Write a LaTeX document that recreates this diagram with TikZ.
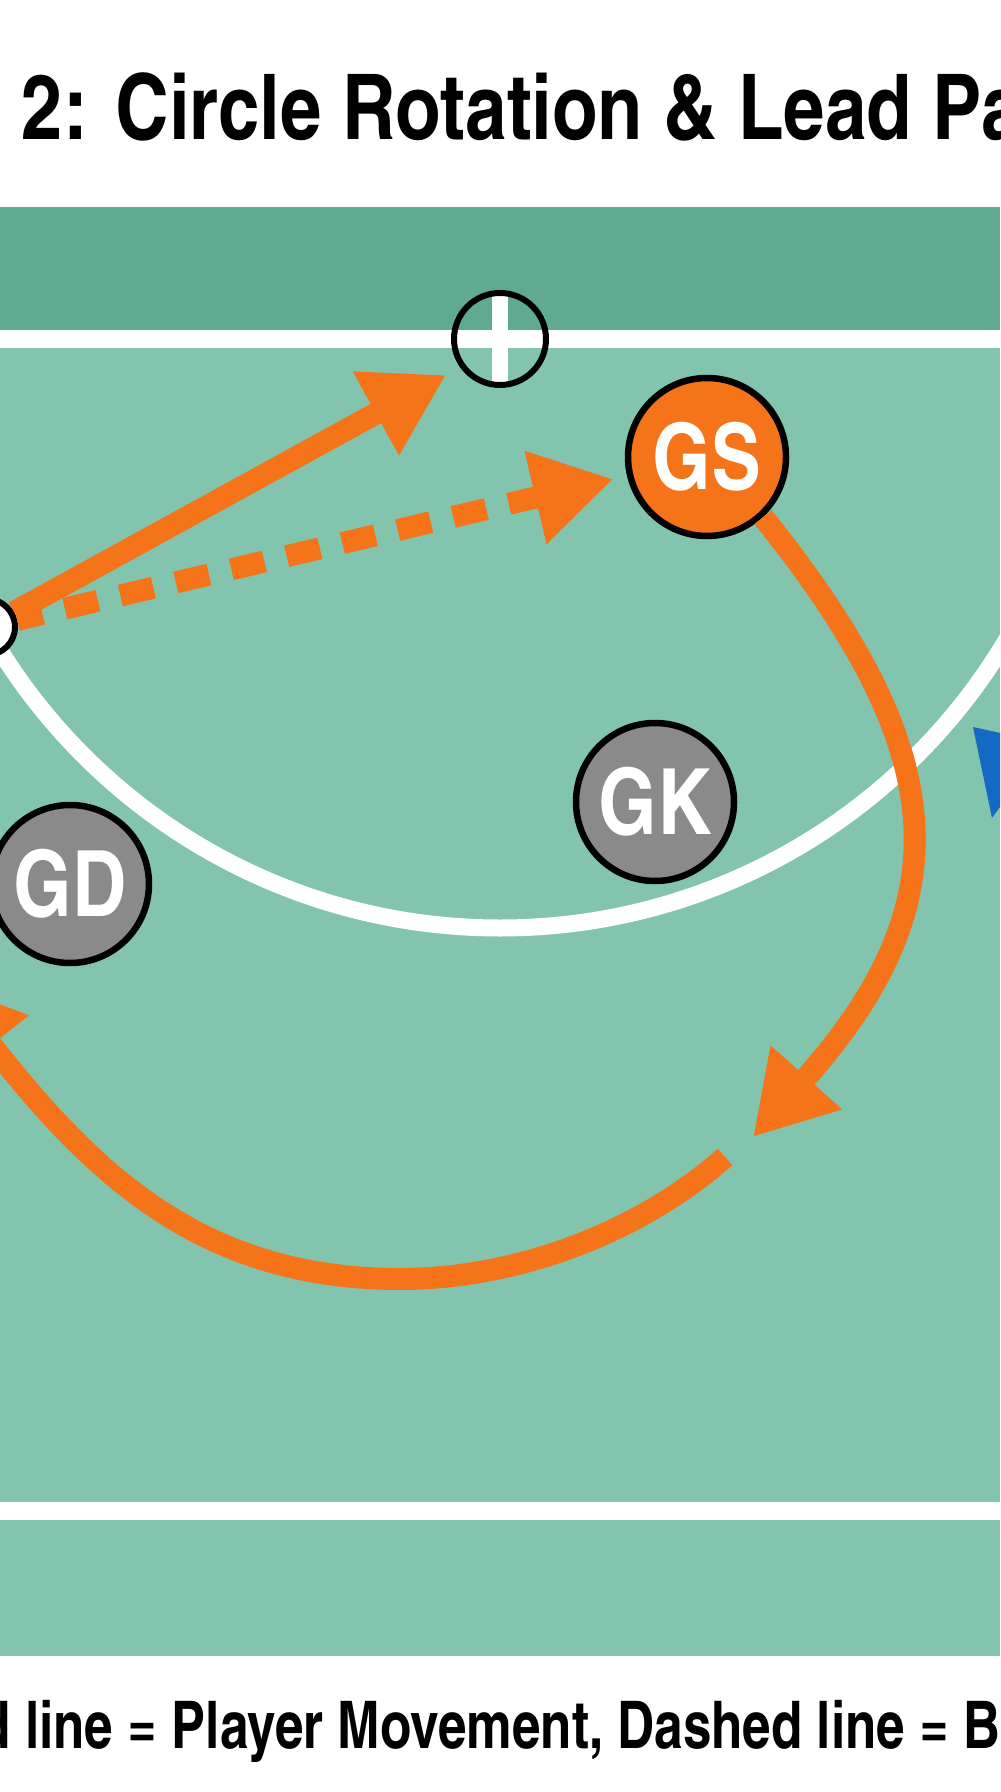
\documentclass[tikz,border=0pt]{standalone}
\usepackage{fontspec}
\newfontfamily\condfont{texgyreheroscn}[Extension=.otf, UprightFont=*-bold]
\newfontfamily\legendfont{texgyreheroscn}[Extension=.otf, UprightFont=*-bold, FakeStretch=0.95]
\usetikzlibrary{arrows.meta}
\definecolor{courtgreen}{RGB}{131,196,174}
\definecolor{bandgreen}{RGB}{96,170,145}
\definecolor{runorange}{RGB}{245,115,25}
\definecolor{playergray}{RGB}{138,138,138}
\definecolor{markblue}{RGB}{20,105,195}
\tikzstyle{attacker} = [
    circle, minimum size=15.8mm, inner sep=0pt,
    draw=black, line width=0.65mm, fill=runorange,
    text=white, font=\condfont\fontsize{26}{26}\selectfont
]
\tikzstyle{defender} = [attacker, fill=playergray]
\tikzstyle{ballmark} = [
    circle, minimum size=5.6mm, inner sep=0pt,
    draw=black, line width=0.6mm, fill=white
]
\tikzstyle{courtline} = [draw=white, line width=1.8mm]
\tikzstyle{runarrow} = [draw=runorange, line width=2.2mm, -{Triangle[length=8mm,width=9mm]}]
\tikzstyle{passarrow} = [runarrow, dash pattern=on 3.4mm off 2.3mm, dash phase=0.8mm]

\begin{document}
\begin{tikzpicture}[x=0.1mm, y=-0.1mm]
        \useasboundingbox (0,0) rectangle (1000,1792);
        \clip (0,0) rectangle (1000,1792);
        % Draw court
        \fill[bandgreen] (0,207) rectangle (1000,339);
        \fill[courtgreen] (0,339) rectangle (1000,1656);
        \draw[courtline] (0,339) -- (1000,339);
        \draw[courtline] (0,1511) -- (1000,1511);
        \begin{scope}
            \clip (0,339) rectangle (1000,1100);
            \draw[courtline, line width=1.7mm] (500,339) circle[radius=589];
        \end{scope}
        \fill[white] (492,296) rectangle (508,382);
        \node (post) [circle, draw=black, line width=0.6mm, minimum size=9.2mm, inner sep=0pt] at (500,339) {};

        % Draw players
        \node (GS) [attacker] at (707,457) {GS};
        \node (GK) [defender] at (655,802) {GK};
        \node (GD) [defender] at (70,884) {GD};
        \node (ball) [ballmark] at (-13,627) {};
        \coordinate (leadEnd) at (446,375);
        \coordinate (gsEnd) at (753,1137);
        \coordinate (rotStart) at (725,1157);
        \coordinate (rotLow) at (400,1279);
        \coordinate (rotEnd) at (-58,982);

        % Draw arrows
        \draw [runarrow] (ball) -- (leadEnd);
        \draw [passarrow, shorten >=1.4mm] (ball) -- (GS);
        \draw [runarrow] (GS.-47) .. controls (950,750) and (965,900) .. (gsEnd);
        \draw [runarrow] (rotStart) .. controls (643,1230) and (520,1279) .. (rotLow)
            .. controls (200,1279) and (91,1172) .. (rotEnd);
        \fill[markblue] (973,727) -- (1046,743) -- (992,818) -- cycle;

        % Draw texts
        \node (title) [anchor=base west, inner sep=0pt, font=\condfont\fontsize{25.8}{26}\selectfont] at (21,140) {2: Circle Rotation \& Lead Pa};
        \node (legend) [anchor=base west, inner sep=0pt, font=\legendfont\fontsize{18.7}{19}\selectfont] at (-21,1748) {d line = Player Movement, Dashed line = B};
    \end{tikzpicture}
\end{document}
